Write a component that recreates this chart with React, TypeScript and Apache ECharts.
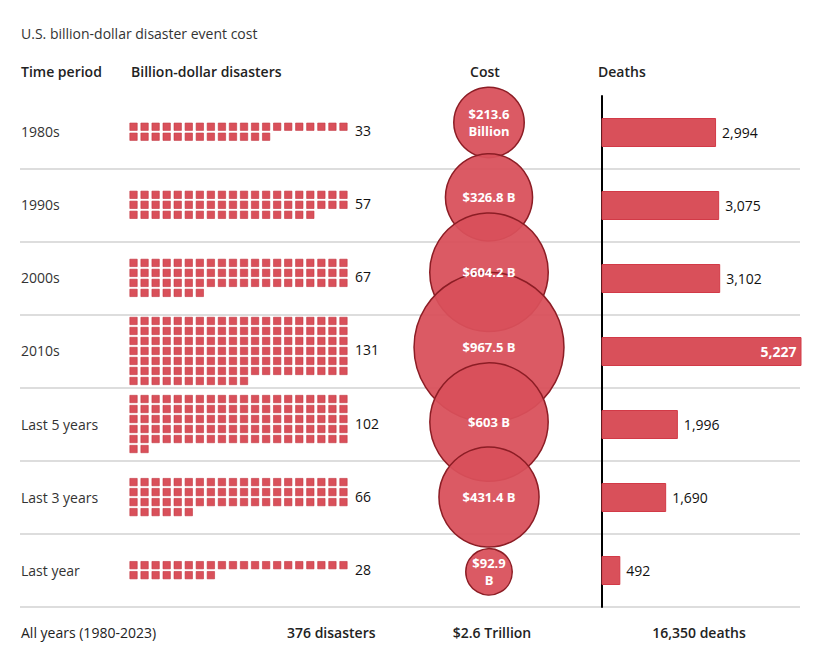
import React, { useEffect, useRef } from "react";
import * as echarts from "echarts";

const title = "U.S. billion-dollar disaster event cost";
const headers = ["Time period", "Billion-dollar disasters", "Cost", "Deaths"];
const periods = ["1980s", "1990s", "2000s", "2010s", "Last 5 years", "Last 3 years", "Last year"];
const disasterCounts = [33, 57, 67, 131, 102, 66, 28];
const costBillions = [213.6, 326.8, 604.2, 967.5, 603, 431.4, 92.9];
const costLabels = ["$213.6\nBillion", "$326.8 B", "$604.2 B", "$967.5 B", "$603 B", "$431.4 B", "$92.9\nB"];
const deaths = [2994, 3075, 3102, 5227, 1996, 1690, 492];
const totals = ["All years (1980-2023)", "376 disasters", "$2.6 Trillion", "16,350 deaths"];

const FONT = "'Open Sans', 'DejaVu Sans', sans-serif";
const FS = 14;
const RED = "#d9505a";
const WAFFLE_COLS = 20;

export default function App() {
  const ref = useRef<HTMLDivElement>(null);

  useEffect(() => {
    if (!ref.current) return;
    const chart = echarts.init(ref.current, null, { renderer: "svg" });
    const maxDeaths = Math.max(...deaths);

    const hiddenValueAxis = (gridIndex: number, min: number, max: any) => ({
      type: "value",
      gridIndex,
      min,
      max,
      show: false,
    });

    const option: any = {
      animation: false,
      textStyle: { fontFamily: FONT },
      grid: [
        { left: 20, width: 780, top: 95.2, height: 511.5 },
        { left: 128, width: 221, top: 95.2, height: 511.5 },
        { left: 389, width: 200, top: 85, height: 524.3 },
        { left: 601.5, width: 200, top: 96, height: 511 },
      ],
      xAxis: [
        hiddenValueAxis(0, 0, 1),
        hiddenValueAxis(1, 0, WAFFLE_COLS),
        hiddenValueAxis(2, -1, 1),
        { type: "value", gridIndex: 3, min: 0, max: "dataMax", show: false },
      ],
      yAxis: [
        {
          type: "category",
          gridIndex: 0,
          data: periods,
          inverse: true,
          axisLine: { show: false },
          axisTick: { show: false },
          axisLabel: {
            inside: true,
            margin: 1,
            interval: 0,
            color: "#333",
            fontSize: FS,
            fontFamily: FONT,
          },
          splitLine: {
            show: true,
            interval: 0,
            showMinLine: false,
            lineStyle: { color: "#d2d2d2", width: 1.5 },
          },
        },
        { type: "category", gridIndex: 1, data: periods, inverse: true, show: false },
        { type: "category", gridIndex: 2, data: periods, inverse: true, show: false },
        {
          type: "category",
          gridIndex: 3,
          data: periods,
          inverse: true,
          axisLine: { show: true, lineStyle: { color: "#000", width: 2 } },
          axisTick: { show: false },
          axisLabel: { show: false },
          splitLine: { show: false },
        },
      ],
      graphic: [
        {
          type: "text",
          x: 21,
          y: 33,
          style: { text: title, fill: "#333", fontSize: FS, fontFamily: FONT, verticalAlign: "middle" },
        },
        ...[
          { x: 21, align: "left" },
          { x: 131, align: "left" },
          { x: 485, align: "center" },
          { x: 598, align: "left" },
        ].map((h, i) => ({
          type: "text",
          x: h.x,
          y: 71,
          style: {
            text: headers[i],
            fill: "#222",
            fontSize: FS,
            fontWeight: 600,
            fontFamily: FONT,
            align: h.align,
            verticalAlign: "middle",
          },
        })),
        ...[
          { x: 21, align: "left", w: 400 },
          { x: 287, align: "left", w: 600 },
          { x: 492, align: "center", w: 600 },
          { x: 699, align: "center", w: 600 },
        ].map((f, i) => ({
          type: "text",
          x: f.x,
          y: 632,
          style: {
            text: totals[i],
            fill: "#222",
            fontSize: FS,
            fontWeight: f.w,
            fontFamily: FONT,
            align: f.align,
            verticalAlign: "middle",
          },
        })),
      ],
      series: [
        {
          type: "custom",
          xAxisIndex: 1,
          yAxisIndex: 1,
          data: disasterCounts.map((n, i) => [n, i]),
          encode: { x: 0, y: 1 },
          clip: false,
          renderItem: (params: any, api: any) => {
            const n = api.value(0);
            const idx = api.value(1);
            const center = api.coord([0, idx]);
            const rowPitch = 10;
            const sq = 7.4;
            const rows = Math.ceil(n / WAFFLE_COLS);
            const blockH = rows * rowPitch - (rowPitch - sq);
            const top = center[1] - blockH / 2;
            const children: any[] = [];
            for (let k = 0; k < n; k++) {
              const col = k % WAFFLE_COLS;
              const row = Math.floor(k / WAFFLE_COLS);
              const cx = api.coord([col + 0.5, idx])[0];
              children.push({
                type: "rect",
                shape: { x: cx - sq / 2, y: top + row * rowPitch, width: sq, height: sq },
                style: { fill: RED, stroke: "#c23542", lineWidth: 0.6 },
              });
            }
            children.push({
              type: "text",
              style: {
                text: String(n),
                x: api.coord([WAFFLE_COLS, idx])[0] + 6,
                y: center[1] - 1,
                fill: "#111",
                fontSize: FS,
                fontWeight: 500,
                fontFamily: FONT,
                align: "left",
                verticalAlign: "middle",
              },
            });
            return { type: "group", children };
          },
        },
        {
          type: "scatter",
          xAxisIndex: 2,
          yAxisIndex: 2,
          clip: false,
          data: costBillions.map((v, i) => [0, i, v]),
          symbol: "circle",
          symbolSize: (d: number[]) => 4.82 * Math.sqrt(d[2]),
          itemStyle: {
            color: "rgba(217, 80, 90, 0.94)",
            borderColor: "#8c1d25",
            borderWidth: 1.5,
            opacity: 1,
          },
          label: {
            show: true,
            position: "inside",
            formatter: (p: any) => costLabels[p.dataIndex],
            color: "#fff",
            fontSize: 13,
            fontWeight: "bold",
            lineHeight: 17,
            fontFamily: FONT,
          },
          emphasis: { disabled: true },
        },
        {
          type: "bar",
          xAxisIndex: 3,
          yAxisIndex: 3,
          barWidth: 29,
          itemStyle: { color: RED, borderColor: "#d23a47", borderWidth: 1 },
          data: deaths.map((v) =>
            v === maxDeaths
              ? {
                  value: v,
                  label: { position: "insideRight", color: "#fff", fontWeight: "bold", distance: 5 },
                }
              : v
          ),
          label: {
            show: true,
            position: "right",
            distance: 6,
            color: "#111",
            fontSize: FS,
            fontWeight: 500,
            fontFamily: FONT,
            formatter: (p: any) => p.value.toLocaleString("en-US"),
          },
          emphasis: { disabled: true },
        },
      ],
    };

    chart.setOption(option);
    return () => chart.dispose();
  }, []);

  return <div ref={ref} style={{ width: 820, height: 670, marginLeft: -8, marginTop: -8 }} />;
}
